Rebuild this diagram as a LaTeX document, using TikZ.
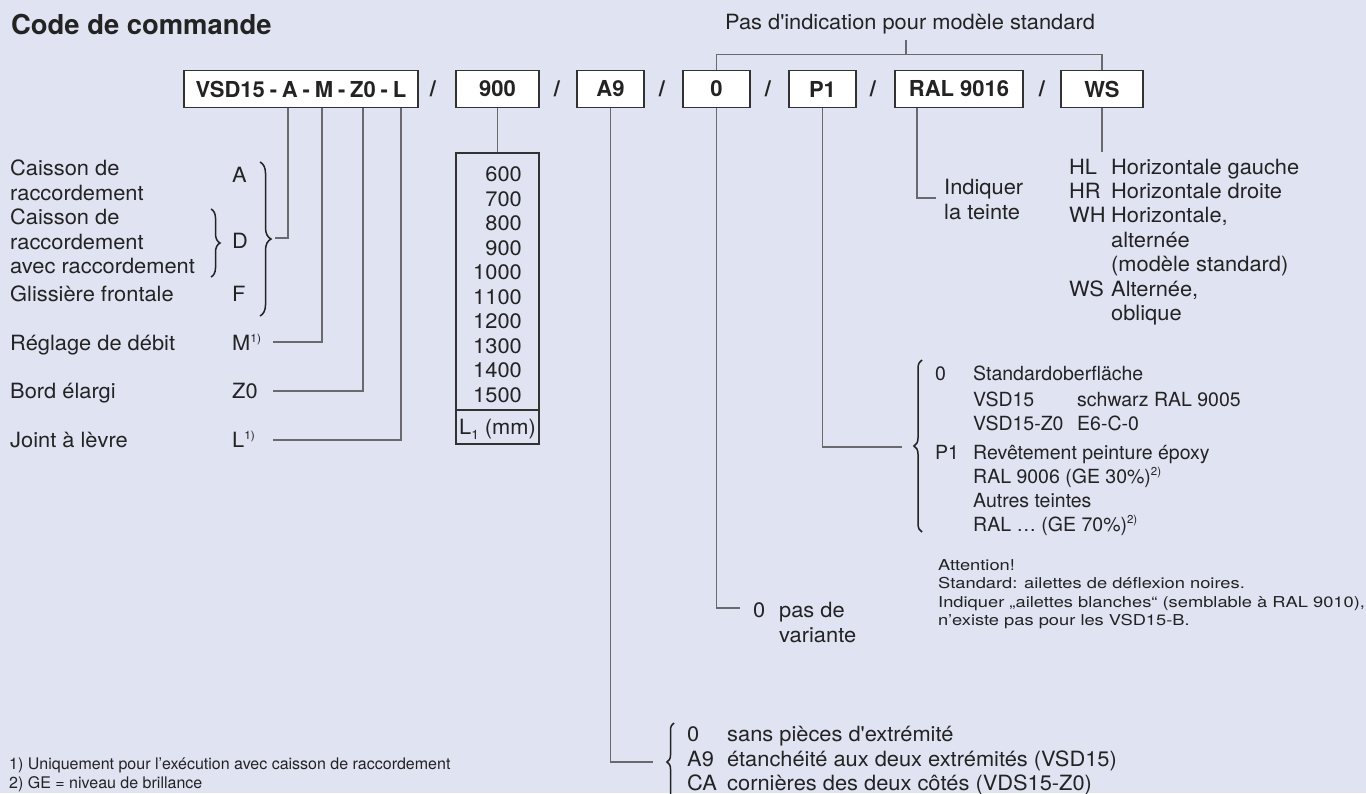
\documentclass[tikz,border=0pt]{standalone}
\usepackage{fontspec}
\setmainfont{TeX Gyre Heros}[FakeStretch=1.04]
\newfontfamily\hb{TeX Gyre Heros}
\newfontfamily\hw{TeX Gyre Heros}[FakeStretch=1.22]
\usetikzlibrary{decorations.pathreplacing}
\definecolor{bg}{RGB}{223,227,242}
\definecolor{ink}{RGB}{35,35,35}
\definecolor{wire}{RGB}{105,105,110}
\definecolor{frame}{RGB}{50,50,50}
\newcommand\supx[1]{\raisebox{0.4em}{\fontsize{11.5}{12}\selectfont #1}}
\newcommand\tl[4]{\node[txt] (#1) at (#2,#3) {#4};}
\newcommand\pl[4]{\node[ptxt] (#1) at (#2,#3) {#4};}
\newcommand\al[4]{\node[atxt] (#1) at (#2,#3) {#4};}
\newcommand\hs{\hspace{.22em}}
\begin{document}
\begin{tikzpicture}[x=1pt,y=-1pt,
  txt/.style={anchor=base west,inner sep=0pt,text=ink,font=\fontsize{21}{24}\selectfont},
  txtr/.style={txt,anchor=base east},
  ptxt/.style={txt,font=\hb\fontsize{19.5}{22}\selectfont},
  atxt/.style={txt,font=\hw\fontsize{15}{17}\selectfont},
  ftxt/.style={txt,font=\hb\fontsize{16}{18}\selectfont},
  codebox/.style={draw=frame,fill=white,line width=1.3pt,minimum height=36.6pt,inner sep=0pt,text=ink,font=\hb\bfseries\fontsize{22}{24}\selectfont},
  slash/.style={inner sep=0pt,text=ink,font=\hb\bfseries\fontsize{22}{24}\selectfont},
  wire/.style={draw=wire,line width=1.3pt},
  brc/.style={draw=ink,line width=1.5pt,decorate},
]
\fill[bg] (0,0) rectangle (1366,793);
\useasboundingbox (0,0) rectangle (1366,793);

% title
\node[txt,font=\hb\bfseries\fontsize{27.4}{30}\selectfont] (title) at (11,34) {Code de commande};

% code boxes
\node[codebox,minimum width=234pt] (b1) at (301,89) {VSD15\hs-\hs A\hs-\hs M\hs-\hs Z0\hs-\hs L};
\node[codebox,minimum width=83pt] (b2) at (497.5,89) {900};
\node[codebox,minimum width=67pt] (b3) at (610.5,89) {A9};
\node[codebox,minimum width=67pt] (b4) at (716.5,89) {0};
\node[codebox,minimum width=67pt] (b5) at (822.5,89) {P1};
\node[codebox,minimum width=128pt] (b6) at (959,89) {RAL 9016};
\node[codebox,minimum width=82pt] (b7) at (1102,89) {WS};
\node[slash] (s1) at (433,89) {/};
\node[slash] (s2) at (557,89) {/};
\node[slash] (s3) at (662,89) {/};
\node[slash] (s4) at (768,89) {/};
\node[slash] (s5) at (873,89) {/};
\node[slash] (s6) at (1042,89) {/};

% top bracket
\node[txt,anchor=base] (pas) at (910,29) {Pas d\textquotesingle indication pour modèle standard};
\coordinate (tk) at (906,54.5);
\coordinate (tkt) at (906,40);
\draw[wire] (b4.north) |- (tk) -| (b7.north);
\draw[wire] (tk) -- (tkt);

% left column
\tl{c1}{10}{175.5}{Caisson de}
\tl{c2}{10}{200}{raccordement}
\tl{c3}{10}{224.5}{Caisson de}
\tl{c4}{10}{249}{raccordement}
\tl{c5}{10}{273.5}{avec raccordement}
\tl{c6}{10}{301.5}{Glissière frontale}
\tl{c7}{10}{350.5}{Réglage de débit}
\tl{c8}{10}{398.5}{Bord élargi}
\tl{c9}{10}{447.5}{Joint à lèvre}
\tl{kA}{232}{182.5}{A}
\tl{kD}{232}{248.5}{D}
\tl{kF}{232}{301.5}{F}
\tl{kM}{232}{350.5}{M\supx{1)}}
\tl{kZ}{232}{398.5}{Z0}
\tl{kL}{232}{447.5}{L\supx{1)}}
\draw[brc,decoration={brace,amplitude=11pt}] (260,162) -- (260,316);
\draw[brc,decoration={brace,amplitude=9pt}] (211,209) -- (211,277);

\coordinate (jA) at (288,238); \coordinate (eA) at (275,238);
\coordinate (jM) at (322,342); \coordinate (eM) at (273,342);
\coordinate (jZ) at (363,391); \coordinate (eZ) at (273,391);
\coordinate (jL) at (401,440); \coordinate (eL) at (273,440);
\draw[wire] (b1.south -| jA) |- (eA);
\draw[wire] (b1.south -| jM) |- (eM);
\draw[wire] (b1.south -| jZ) |- (eZ);
\draw[wire] (b1.south -| jL) |- (eL);

% length box
\node[draw=frame,line width=1.3pt,minimum width=83pt,minimum height=291pt,inner sep=0pt] (lenbox) at (497.5,298.5) {};
\coordinate (dv) at (0,410);
\draw[draw=frame,line width=1.3pt] (lenbox.west |- dv) -- (lenbox.east |- dv);
\foreach \v [count=\i] in {600,700,800,900,1000,1100,1200,1300,1400,1500}
  \node[txtr] (n\i) at (522,{181.5+(\i-1)*24.5}) {\v};
\node[txt,anchor=base] (lone) at (497.5,434.5) {L\raisebox{-0.22em}{\fontsize{13}{13}\selectfont 1} (mm)};
\draw[wire] (b2.south) -- (lenbox.north);

% A9 connector and list
\coordinate (eA9) at (653,762);
\draw[wire] (b3.south) |- (eA9);
\draw[brc,decoration={brace,amplitude=7pt}] (674,801) -- (674,723);
\tl{e1}{687}{741.7}{0}
\tl{e2}{727}{741.7}{sans pièces d\textquotesingle extrémité}
\tl{e3}{687}{766.2}{A9}
\tl{e4}{727}{766.2}{étanchéité aux deux extrémités (VSD15)}
\tl{e5}{687}{790.5}{CA}
\tl{e6}{727}{790.5}{cornières des deux côtés (VDS15-Z0)}

% 0 connector
\coordinate (e0) at (740,608);
\draw[wire] (b4.south) |- (e0);
\tl{v1}{753}{617.3}{0}
\tl{v2}{779}{617.3}{pas de}
\tl{v3}{779}{642}{variante}

% P1 connector and list
\coordinate (eP1) at (902,447);
\draw[wire] (b5.south) |- (eP1);
\draw[brc,decoration={brace,amplitude=8pt}] (922,532) -- (922,360);
\pl{p1}{935}{380.5}{0}
\pl{p2}{973}{380.5}{Standardoberfläche}
\pl{p3}{973}{406}{VSD15}
\pl{p4}{1077}{406}{schwarz RAL 9005}
\pl{p5}{973}{430}{VSD15-Z0}
\pl{p6}{1077}{430}{E6-C-0}
\pl{p7}{935}{459}{P1}
\pl{p8}{973}{459}{Revêtement peinture époxy}
\pl{p9}{973}{483.5}{RAL 9006 (GE 30\%)\supx{2)}}
\pl{p10}{973}{507.7}{Autres teintes}
\pl{p11}{973}{531.7}{RAL … (GE 70\%)\supx{2)}}
\al{a1}{938}{570.5}{Attention!}
\al{a2}{938}{588.8}{Standard: ailettes de déflexion noires.}
\al{a3}{938}{607.1}{Indiquer „ailettes blanches“ (semblable à RAL 9010),}
\al{a4}{938}{625.4}{n’existe pas pour les VSD15-B.}

% RAL connector
\coordinate (jR) at (917,198); \coordinate (eR) at (936,198);
\draw[wire] (b6.south -| jR) -- (jR) -- (eR);
\tl{i1}{944}{194}{Indiquer}
\tl{i2}{944}{219}{la teinte}

% WS connector and list
\coordinate (eWS) at (1102,152);
\draw[wire] (b7.south) -- (eWS);
\tl{w1}{1069}{174}{HL}
\tl{w2}{1111}{174}{Horizontale gauche}
\tl{w3}{1069}{198.4}{HR}
\tl{w4}{1111}{198.4}{Horizontale droite}
\tl{w5}{1069}{222.8}{WH}
\tl{w6}{1111}{222.8}{Horizontale,}
\tl{w7}{1111}{247.2}{alternée}
\tl{w8}{1111}{271.6}{(modèle standard)}
\tl{w9}{1069}{296}{WS}
\tl{w10}{1111}{296}{Alternée,}
\tl{w11}{1111}{320.4}{oblique}

% footnotes
\node[ftxt] (f1) at (9,769.3) {1) Uniquement pour l’exécution avec caisson de raccordement};
\node[ftxt] (f2) at (9,788.3) {2) GE = niveau de brillance};
\end{tikzpicture}
\end{document}
